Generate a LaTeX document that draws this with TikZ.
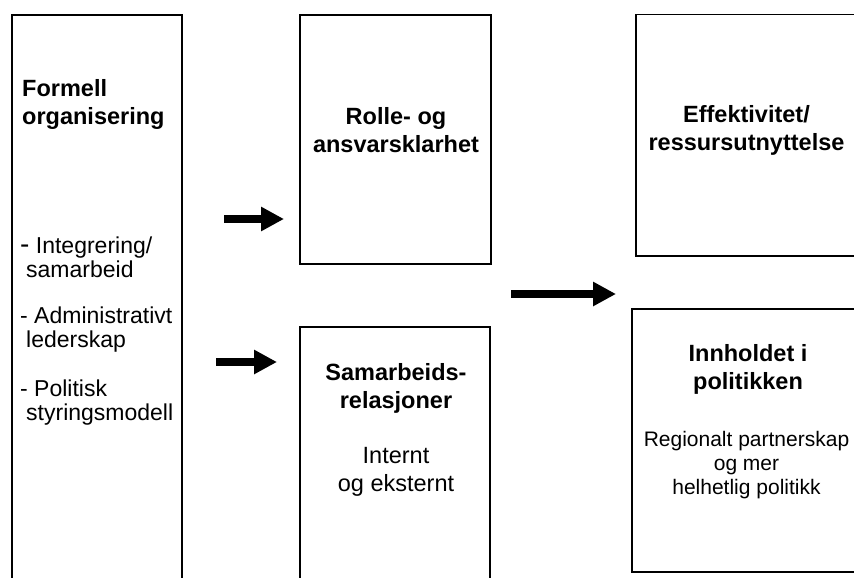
\documentclass[tikz,border=0pt]{standalone}
\usepackage{fontspec}
\setmainfont{Liberation Sans}
\usetikzlibrary{arrows.meta}
\tikzset{
  box/.style={draw=black, line width=1.8pt, rectangle, anchor=north west, inner sep=0pt, outer sep=0pt},
  titletext/.style={font=\fontsize{23.5}{28}\selectfont\bfseries, align=center, inner sep=0pt},
  itemtext/.style={font=\fontsize{23}{24}\selectfont, align=left, inner sep=0pt, anchor=west},
  bodytext/.style={font=\fontsize{23.5}{28}\selectfont, align=center, inner sep=0pt},
  smalltext/.style={font=\fontsize{21}{24}\selectfont, align=center, inner sep=0pt},
  fatarrow/.style={line width=8pt, -{Triangle[length=23pt,width=23pt]}}
}
\begin{document}
\begin{tikzpicture}[x=1pt,y=-1pt]
\useasboundingbox (0,0) rectangle (854,578);
\clip (0,0) rectangle (854,578);
% boxes
\node[box, minimum width=170pt, minimum height=590pt] (formell) at (12,15) {};
\node[box, minimum width=191pt, minimum height=249pt] (rolle) at (300,15) {};
\node[box, minimum width=190pt, minimum height=270pt] (samarb) at (300,327) {};
\node[box, minimum width=225pt, minimum height=241.5pt] (effekt) at (636,14.5) {};
\node[box, minimum width=229pt, minimum height=263pt] (innhold) at (632,309) {};
% texts
\node[titletext, align=left, anchor=west] (formelltitle) at (22,104) {Formell\\organisering};
\node[itemtext] (item1) at (20,257) {{\fontsize{28}{24}\selectfont -} Integrering/\\\hspace{6pt}samarbeid};
\node[itemtext] (item2) at (20,329.5) {- Administrativt\\\hspace{6pt}lederskap};
\node[itemtext] (item3) at (20,402.5) {- Politisk\\\hspace{6pt}styringsmodell};
\node[titletext] (rolletitle) at (396,130.5) {Rolle- og\\ansvarsklarhet};
\node[titletext] (effekttitle) at (746.5,130.5) {Effektivitet/\\ressursutnyttelse};
\node[titletext] (samarbtitle) at (396,388.5) {Samarbeids-\\relasjoner};
\node[bodytext] (samarbbody) at (396,472) {Internt\\og eksternt};
\node[titletext] (innholdtitle) at (748,369) {Innholdet i\\politikken};
\node[smalltext] (innholdbody) at (746.5,465) {Regionalt partnerskap\\og mer\\helhetlig politikk};
% arrows
\draw[fatarrow, shorten <=42pt, shorten >=16pt] (formell.east |- 0,219) -- (rolle.west |- 0,219);
\draw[fatarrow, shorten <=34pt, shorten >=23pt] (formell.east |- 0,362) -- (samarb.west |- 0,362);
\draw[fatarrow, shorten <=20pt, shorten >=20pt] (rolle.east |- 0,294) -- (effekt.west |- 0,294);
\end{tikzpicture}
\end{document}
